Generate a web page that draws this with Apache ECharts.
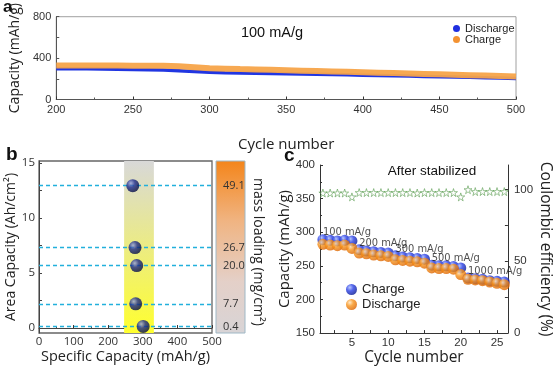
<!DOCTYPE html>
<html><head><meta charset="utf-8">
<script src="https://cdn.jsdelivr.net/npm/echarts@6/dist/echarts.min.js"></script>
<style>html,body{margin:0;padding:0;background:#fff}#c{width:554px;height:367px}</style>
</head><body><div id="c"></div>
<script>
// ---- Panel a : long cycling at 100 mA/g ----
const cyclesA = [200,210,220,230,240,250,260,270,280,290,300,310,320,330,340,350,360,370,380,390,400,410,420,430,440,450,460,470,480,490,500];
const chargeA = [328,328,329,329,328,327,326,325,322,312,302,298,294,291,287,283,279,275,271,267,263,259,255,251,247,243,239,235,231,227,223];
const dischargeA = [298,297,296,295,293,291,288,284,278,270,263,259,256,254,252,250,247,244,241,238,235,232,229,226,223,220,217,214,211,207,203];
const yTicksA = [0,400,800];

// ---- Panel b : area capacity vs specific capacity ----
const specCap = [271,277.5,282.4,279.5,301];
const areaCap = [12.94,7.31,5.68,2.2,0.15];
const massLoading = ['49.1','26.7','20.0','7.7','0.4'];
const bandRange = [246,332];
const yLabelsB = [0,5,10,15];
const yTicksB = [0,2.5,5,7.5,10,12.5,15];

// ---- Panel c : rate performance ----
const cyclesC = [1,2,3,4,5,6,7,8,9,10,11,12,13,14,15,16,17,18,19,20,21,22,23,24,25,26];
const chargeC = [289,288,287,288,287,274,272,271,270,269,265,263,262,261,260,251,250,250,249,247,232,231,230,228,227,226];
const dischargeC = [282,281,280,281,276,269,268,266,265,264,259,258,257,256,254,247,246,246,245,237,230,229,228,226,224,222];
const ceC = [97.5,97.5,97.5,97.5,94.8,97.8,97.8,97.8,97.8,97.8,97.8,97.8,97.8,97.5,97.8,97.8,97.8,97.8,97.8,94.8,99.8,98.5,98.5,98.5,98.5,98.5];
const rateLabels = ['100 mA/g','200 mA/g','300 mA/g','500 mA/g','1000 mA/g'];
const rateStart = [1,6,11,16,21];
const xLabelsC = [5,10,15,20,25];
const xTicksC = [2.5,5,7.5,10,12.5,15,17.5,20,22.5,25];
const ceLabels = [0,50,100];
const ceTicks = [0,25,50,75,100];

const FA = "'Liberation Sans', Arial, sans-serif";
const FS = "'Open Sans', 'Noto Sans', sans-serif";
const FN = "'Liberation Sans Narrow', 'DejaVu Sans Condensed', 'Liberation Sans', sans-serif";
const G = echarts.graphic;

function sphere(c0, c1, c2) {
  return new G.RadialGradient(0.35, 0.32, 0.7, [
    {offset: 0, color: c0}, {offset: 0.45, color: c1}, {offset: 1, color: c2}]);
}
const blueBall = sphere('#a9bcff', '#2a40e6', '#0a1a96');
const orangeBall = sphere('#ffe4bd', '#f7941d', '#dc6400');
const navyBall = sphere('#9aa6e0', '#1d2b8e', '#060d45');
const starPath = 'path://M50,0 L61,35 L98,35 L68,57 L79,91 L50,70 L21,91 L32,57 L2,35 L39,35 Z';
const DASH = '#22b0dc';

const axisLineC = {lineStyle: {color: '#333', width: 1}};
const tickIn = {inside: true, length: 3, lineStyle: {color: '#333'}};

const option = {
  animation: false,
  backgroundColor: '#fff',
  grid: [
    {left: 40, right: 38, top: 14.5, bottom: 267.5, show: true, borderColor: '#a0a0a0', borderWidth: 1},
    {left: 39, right: 342, top: 161, bottom: 34, show: true, borderColor: '#666', borderWidth: 1.3},
    {left: 320, right: 33.5, top: 165, bottom: 32}
  ],
  xAxis: [
    {gridIndex: 0, type: 'value', min: 200, max: 500, interval: 50,
     axisLine: {lineStyle: {color: '#555'}}, axisTick: tickIn,
     minorTick: {show: true, splitNumber: 2, length: 2, lineStyle: {color: '#555'}},
     axisLabel: {fontSize: 11, color: '#333', margin: 5, fontFamily: FA},
     splitLine: {show: false},
     name: 'Cycle number', nameLocation: 'middle', nameGap: 38,
     nameTextStyle: {fontSize: 15, color: '#222', fontFamily: FS}},
    {gridIndex: 1, type: 'value', min: 0, max: 500, interval: 100,
     axisLine: {lineStyle: {color: '#444'}}, axisTick: tickIn,
     minorTick: {show: true, splitNumber: 2, length: 2, lineStyle: {color: '#444'}},
     axisLabel: {fontSize: 11.5, color: '#333', margin: 3, fontFamily: FS},
     splitLine: {show: false},
     name: 'Specific Capacity (mAh/g)', nameLocation: 'middle', nameGap: 16,
     nameTextStyle: {fontSize: 14.5, color: '#222', fontFamily: FS}},
    {gridIndex: 2, type: 'value', min: 0.6, max: 26.5,
     axisLine: axisLineC,
     axisTick: {inside: true, length: 3, lineStyle: {color: '#333'}, customValues: xTicksC},
     axisLabel: {fontSize: 11.5, color: '#333', margin: 4, fontFamily: FA, customValues: xLabelsC},
     splitLine: {show: false},
     name: 'Cycle number', nameLocation: 'middle', nameGap: 15,
     nameTextStyle: {fontSize: 15.5, color: '#222', fontFamily: FS}}
  ],
  yAxis: [
    {gridIndex: 0, type: 'value', min: 0, max: 800, interval: 200,
     axisLine: {show: true, lineStyle: {color: '#555'}}, axisTick: {show: true, inside: true, length: 3, lineStyle: {color: '#555'}},
     axisLabel: {fontSize: 11, color: '#333', margin: 5, fontFamily: FA,
       formatter: v => yTicksA.indexOf(v) >= 0 ? String(v) : ''},
     splitLine: {show: false},
     name: 'Capacity (mAh/g)', nameLocation: 'middle', nameGap: 18,
     nameTextStyle: {fontSize: 14, color: '#222', fontFamily: FS}},
    {gridIndex: 1, type: 'value', min: -0.45, max: 15.18,
     axisLine: {show: true, lineStyle: {color: '#444'}},
     axisTick: {show: true, inside: true, length: 3, lineStyle: {color: '#444'}, customValues: yTicksB},
     axisLabel: {fontSize: 11.5, color: '#333', margin: 4, fontFamily: FS, customValues: yLabelsB},
     splitLine: {show: false},
     name: 'Area Capacity (Ah/cm²)', nameLocation: 'middle', nameGap: 20,
     nameTextStyle: {fontSize: 14, color: '#222', fontFamily: FS}},
    {gridIndex: 2, type: 'value', min: 150, max: 400, interval: 50,
     axisLine: {show: true, lineStyle: {color: '#333'}}, axisTick: {show: true, inside: true, length: 3, lineStyle: {color: '#333'}},
     minorTick: {show: true, splitNumber: 2, length: 2, lineStyle: {color: '#333'}},
     axisLabel: {fontSize: 11.5, color: '#333', margin: 5, fontFamily: FA},
     splitLine: {show: false},
     name: 'Capacity (mAh/g)', nameLocation: 'middle', nameGap: 23,
     nameTextStyle: {fontSize: 15, color: '#222', fontFamily: FS}},
    {gridIndex: 2, type: 'value', min: 0, max: 117, position: 'right',
     axisLine: {show: true, lineStyle: {color: '#333'}},
     axisTick: {show: true, inside: true, length: 3, lineStyle: {color: '#333'}, customValues: ceTicks},
     axisLabel: {fontSize: 11.5, color: '#333', margin: 6, fontFamily: FA, customValues: ceLabels},
     splitLine: {show: false},
     name: 'Coulombic efficiency (%)', nameLocation: 'middle', nameGap: 18, nameRotate: -90,
     nameTextStyle: {fontSize: 15.5, color: '#222', fontFamily: FS}}
  ],
  legend: [
    {data: ['Discharge', 'Charge'], orient: 'vertical', left: 448, top: 18, icon: 'circle',
     itemWidth: 7, itemHeight: 7, itemGap: 0,
     textStyle: {fontSize: 11, color: '#222', fontFamily: FA}},
    {data: ['Charge ', 'Discharge '], orient: 'vertical', left: 341, top: 278, icon: 'circle',
     itemWidth: 11, itemHeight: 11, itemGap: 2,
     textStyle: {fontSize: 13, color: '#222', fontFamily: FA}}
  ],
  series: [
    // panel a
    {name: 'Discharge', type: 'line', xAxisIndex: 0, yAxisIndex: 0, showSymbol: false,
     data: cyclesA.map((c, i) => [c, dischargeA[i]]),
     lineStyle: {color: '#2136e2', width: 3.5}, itemStyle: {color: '#1f2fe0'}, z: 2},
    {name: 'Charge', type: 'line', xAxisIndex: 0, yAxisIndex: 0, showSymbol: false,
     data: cyclesA.map((c, i) => [c, chargeA[i]]),
     lineStyle: {color: '#f7a449', width: 6, opacity: 0.95}, itemStyle: {color: '#f39232'}, z: 3},
    // panel b band + dashed lines
    {name: 'band', type: 'scatter', xAxisIndex: 1, yAxisIndex: 1, data: [], z: 1,
     itemStyle: {color: DASH},
     markArea: {silent: true,
       itemStyle: {color: new G.LinearGradient(0, 0, 0, 1, [{offset: 0, color: '#d8d8d8'}, {offset: 1, color: '#ffff2e'}])},
       data: [[{xAxis: bandRange[0]}, {xAxis: bandRange[1]}]]},
     markLine: {silent: true, symbol: ['none', 'none'],
       lineStyle: {type: [4, 3], color: DASH, width: 1.4},
       label: {show: true, position: 'end', distance: 11, color: '#333', fontSize: 11, fontFamily: FS,
         formatter: p => p.name},
       data: areaCap.map((y, i) => ({yAxis: y, name: massLoading[i]}))}},
    {name: 'points', type: 'scatter', xAxisIndex: 1, yAxisIndex: 1, z: 5,
     data: specCap.map((x, i) => [x, areaCap[i]]), symbolSize: 13,
     itemStyle: {color: navyBall}},
    // panel c
    {name: 'Charge ', type: 'scatter', xAxisIndex: 2, yAxisIndex: 2, symbolSize: 11, z: 3,
     itemStyle: {color: blueBall},
     data: cyclesC.map((c, i) => {
       const k = rateStart.indexOf(c);
       const item = {value: [c, chargeC[i]]};
       if (k >= 0) item.label = {show: true, formatter: rateLabels[k], position: [5.5, -1.5],
         align: 'left', verticalAlign: 'middle', fontSize: 11, color: '#222', fontFamily: FN};
       return item;
     })},
    {name: 'Discharge ', type: 'scatter', xAxisIndex: 2, yAxisIndex: 2, symbolSize: 11, z: 4,
     itemStyle: {color: orangeBall},
     data: cyclesC.map((c, i) => [c, dischargeC[i]])},
    {name: 'CE', type: 'scatter', xAxisIndex: 2, yAxisIndex: 3, symbol: starPath, symbolSize: 8, z: 4,
     itemStyle: {color: 'rgba(0,0,0,0)', borderColor: '#5f9f55', borderWidth: 0.8},
     data: cyclesC.map((c, i) => [c, ceC[i]])}
  ],
  graphic: [
    {type: 'text', left: 3, top: -1, style: {text: 'a', font: "bold 17px 'Liberation Sans', Arial", fill: '#111'}},
    {type: 'text', left: 6, top: 145, style: {text: 'b', font: "bold 19px 'Liberation Sans', Arial", fill: '#111'}},
    {type: 'text', left: 284, top: 146, style: {text: 'c', font: "bold 19px 'Liberation Sans', Arial", fill: '#111'}},
    {type: 'text', x: 272, y: 33, style: {text: '100 mA/g', font: "14.5px 'Liberation Sans', Arial", fill: '#111', align: 'center', verticalAlign: 'middle'}},
    {type: 'text', x: 432, y: 171, style: {text: 'After stabilized', font: "13.5px 'Liberation Sans', Arial", fill: '#111', align: 'center', verticalAlign: 'middle'}},
    {type: 'rect', z: 0, shape: {x: 216, y: 161, width: 29, height: 172},
     style: {fill: new G.LinearGradient(0, 0, 0, 1, [
       {offset: 0, color: '#f4851a'}, {offset: 0.35, color: '#f0b482'}, {offset: 0.7, color: '#e4d0c8'}, {offset: 1, color: '#d8d4d6'}]),
       stroke: '#9fb8c6', lineWidth: 1}},
    {type: 'text', x: 258, y: 252, rotation: -Math.PI / 2,
     style: {text: 'mass loading (mg/cm²)', font: "14px 'Open Sans', 'Noto Sans'", fill: '#222', align: 'center', verticalAlign: 'middle'}}
  ]
};
const chart = echarts.init(document.getElementById('c'), null, {renderer: 'canvas'});
chart.setOption(option);
</script>
</body></html>
